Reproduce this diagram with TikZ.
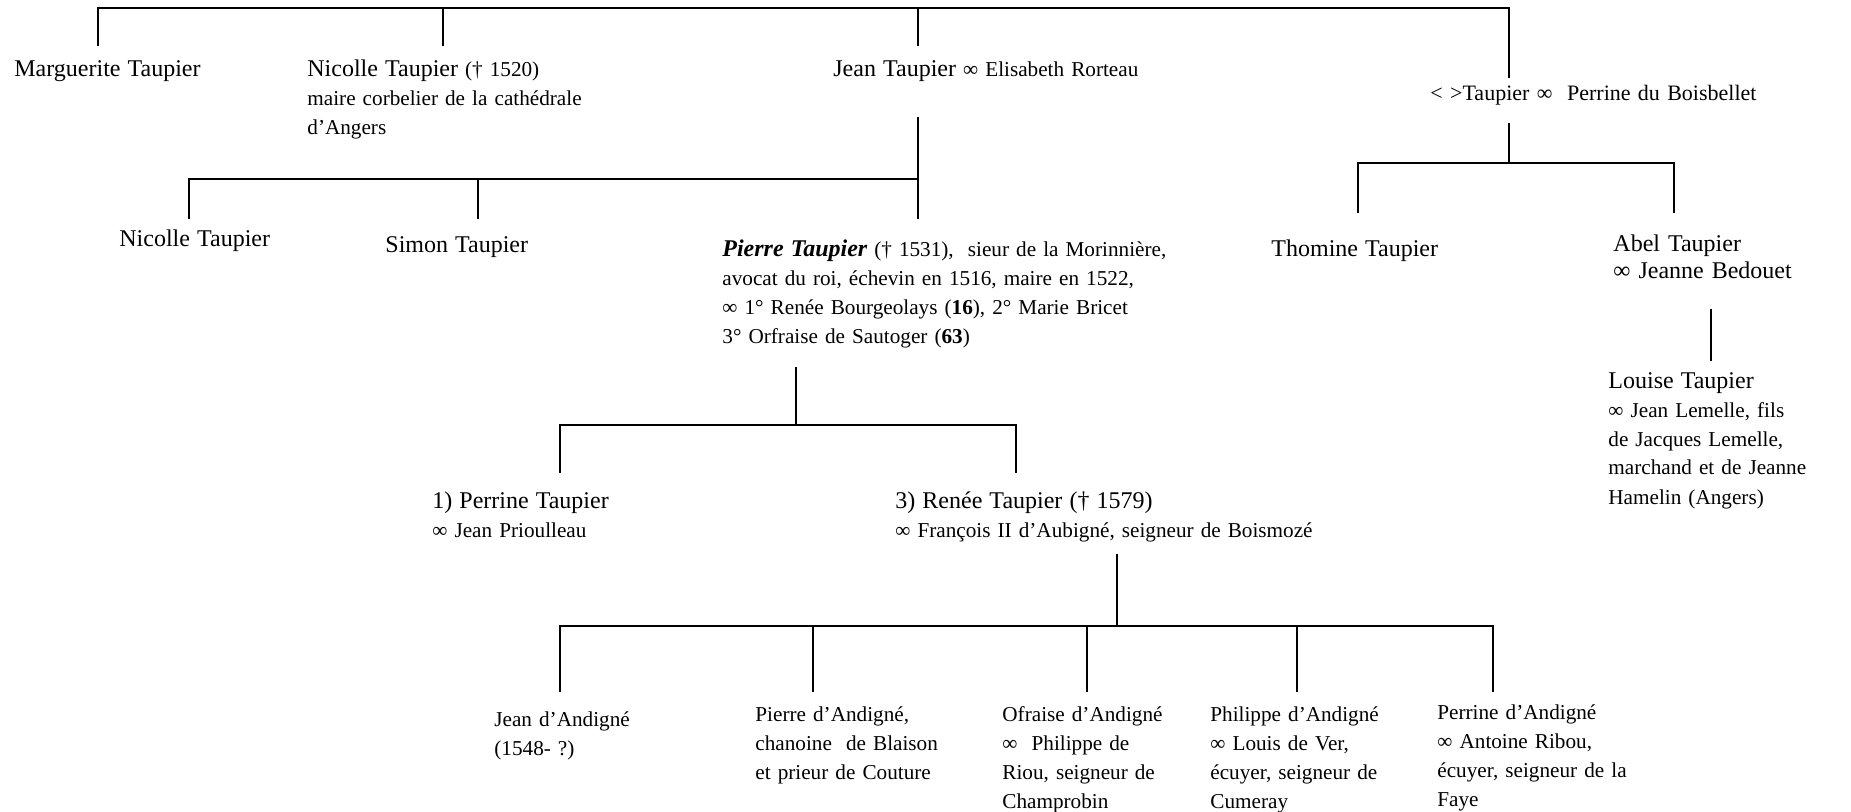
\documentclass[tikz,border=0pt]{standalone}
\usepackage{fontspec}
\setmainfont{Liberation Serif}
\usetikzlibrary{positioning}
\newcommand{\mainsz}{\fontsize{12}{13.5}\selectfont}
\newcommand{\smallsz}{\fontsize{10.6}{14.5}\selectfont}
\newcommand{\anonsz}{\fontsize{11}{14}\selectfont}
\tikzset{
 person/.style={
 anchor=base west,
 inner sep=0pt,
 align=left,
 text width=8cm,
 font=\smallsz
 },
 tie/.style={line width=0.9pt, line cap=rect, draw=black}
}

\begin{document}
\begin{tikzpicture}[x=0.5pt, y=-0.5pt]
 \useasboundingbox (0,0) rectangle (1851,812);
 % first generation
 \node[person] (marg) at (14,77) {\mainsz Marguerite Taupier};
 \node[person] (nic1) at (307,77) {{\mainsz Nicolle Taupier} († 1520)\\ maire corbelier de la cathédrale\\ d’Angers};
 \node[person] (jean) at (833,77) {{\mainsz Jean Taupier} ∞ Elisabeth Rorteau};
 \node[person, font=\anonsz] (anon) at (1430,101) {< >Taupier ∞~ Perrine du Boisbellet};
 % children of Jean
 \node[person] (nic2) at (119,247) {\mainsz Nicolle Taupier};
 \node[person] (simon) at (385,253) {\mainsz Simon Taupier};
 \node[person] (pierre) at (722,257) {{\mainsz\bfseries\itshape Pierre Taupier} († 1531),~ sieur de la Morinnière,\\ avocat du roi, échevin en 1516, maire en 1522,\\ ∞ 1° Renée Bourgeolays (\textbf{16}), 2° Marie Bricet\\ 3° Orfraise de Sautoger (\textbf{63})};
 % children of the other Taupier
 \node[person] (thom) at (1271,257) {\mainsz Thomine Taupier};
 \node[person, font=\mainsz] (abel) at (1613,252) {Abel Taupier\\ ∞ Jeanne Bedouet};
 \node[person] (louise) at (1608,388) {{\mainsz Louise Taupier}\\ ∞ Jean Lemelle, fils\\ de Jacques Lemelle,\\ marchand et de Jeanne\\ Hamelin (Angers)};
 % children of Pierre
 \node[person] (perr) at (432,508) {{\mainsz 1) Perrine Taupier}\\ ∞ Jean Prioulleau};
 \node[person] (renee) at (895,508) {{\mainsz 3) Renée Taupier († 1579)}\\ ∞ François II d’Aubigné, seigneur de Boismozé};
 % children of Renee
 \node[person] (jeanA) at (494,726) {Jean d’Andigné\\ (1548- ?)};
 \node[person] (pierA) at (755,721) {Pierre d’Andigné,\\ chanoine~ de Blaison\\ et prieur de Couture};
 \node[person] (ofr) at (1002,721) {Ofraise d’Andigné\\ ∞~ Philippe de\\ Riou, seigneur de\\ Champrobin};
 \node[person] (phil) at (1210,721) {Philippe d’Andigné\\ ∞ Louis de Ver,\\ écuyer, seigneur de\\ Cumeray};
 \node[person] (perA) at (1437,719) {Perrine d’Andigné\\ ∞ Antoine Ribou,\\ écuyer, seigneur de la\\ Faye};

 % junction points
 \coordinate (g1-l) at (98,8);
 \coordinate (g1-r) at (1509,8);
 \coordinate (marg-up) at (98,45);
 \coordinate (nic1-up) at (443,45);
 \coordinate (jean-up) at (918,45);
 \coordinate (anon-up) at (1509,77);
 \coordinate (jean-dn) at (918,118);
 \coordinate (g2-l) at (189,179);
 \coordinate (nic2-up) at (189,218);
 \coordinate (simon-up) at (478,218);
 \coordinate (pierre-up) at (918,218);
 \coordinate (anon-dn) at (1509,124);
 \coordinate (g2-r) at (1509,163);
 \coordinate (thom-up) at (1358,212);
 \coordinate (abel-up) at (1674,212);
 \coordinate (abel-dn) at (1711,310);
 \coordinate (louise-up) at (1711,360);
 \coordinate (pierre-dn) at (796,368);
 \coordinate (g3) at (796,425);
 \coordinate (perr-up) at (560,472);
 \coordinate (renee-up) at (1016,472);
 \coordinate (renee-dn) at (1117,555);
 \coordinate (g4) at (1117,626);
 \coordinate (jeanA-up) at (560,691);
 \coordinate (pierA-up) at (813,691);
 \coordinate (ofr-up) at (1087,691);
 \coordinate (phil-up) at (1297,691);
 \coordinate (perA-up) at (1493,691);

 % lines
 \draw[tie] (marg-up) -- (g1-l) -- (g1-r) -- (anon-up);
 \draw[tie] (g1-l -| nic1-up) -- (nic1-up);
 \draw[tie] (g1-l -| jean-up) -- (jean-up);
 \draw[tie] (jean-dn) -- (pierre-up);
 \draw[tie] (nic2-up) -- (g2-l) -- (g2-l -| jean-dn);
 \draw[tie] (g2-l -| simon-up) -- (simon-up);
 \draw[tie] (anon-dn) -- (g2-r);
 \draw[tie] (thom-up) -- (thom-up |- g2-r) -- (abel-up |- g2-r) -- (abel-up);
 \draw[tie] (abel-dn) -- (louise-up);
 \draw[tie] (pierre-dn) -- (g3);
 \draw[tie] (perr-up) -- (perr-up |- g3) -- (renee-up |- g3) -- (renee-up);
 \draw[tie] (renee-dn) -- (g4);
 \draw[tie] (jeanA-up) -- (jeanA-up |- g4) -- (perA-up |- g4) -- (perA-up);
 \draw[tie] (g4 -| pierA-up) -- (pierA-up);
 \draw[tie] (g4 -| ofr-up) -- (ofr-up);
 \draw[tie] (g4 -| phil-up) -- (phil-up);
\end{tikzpicture}
\end{document}
